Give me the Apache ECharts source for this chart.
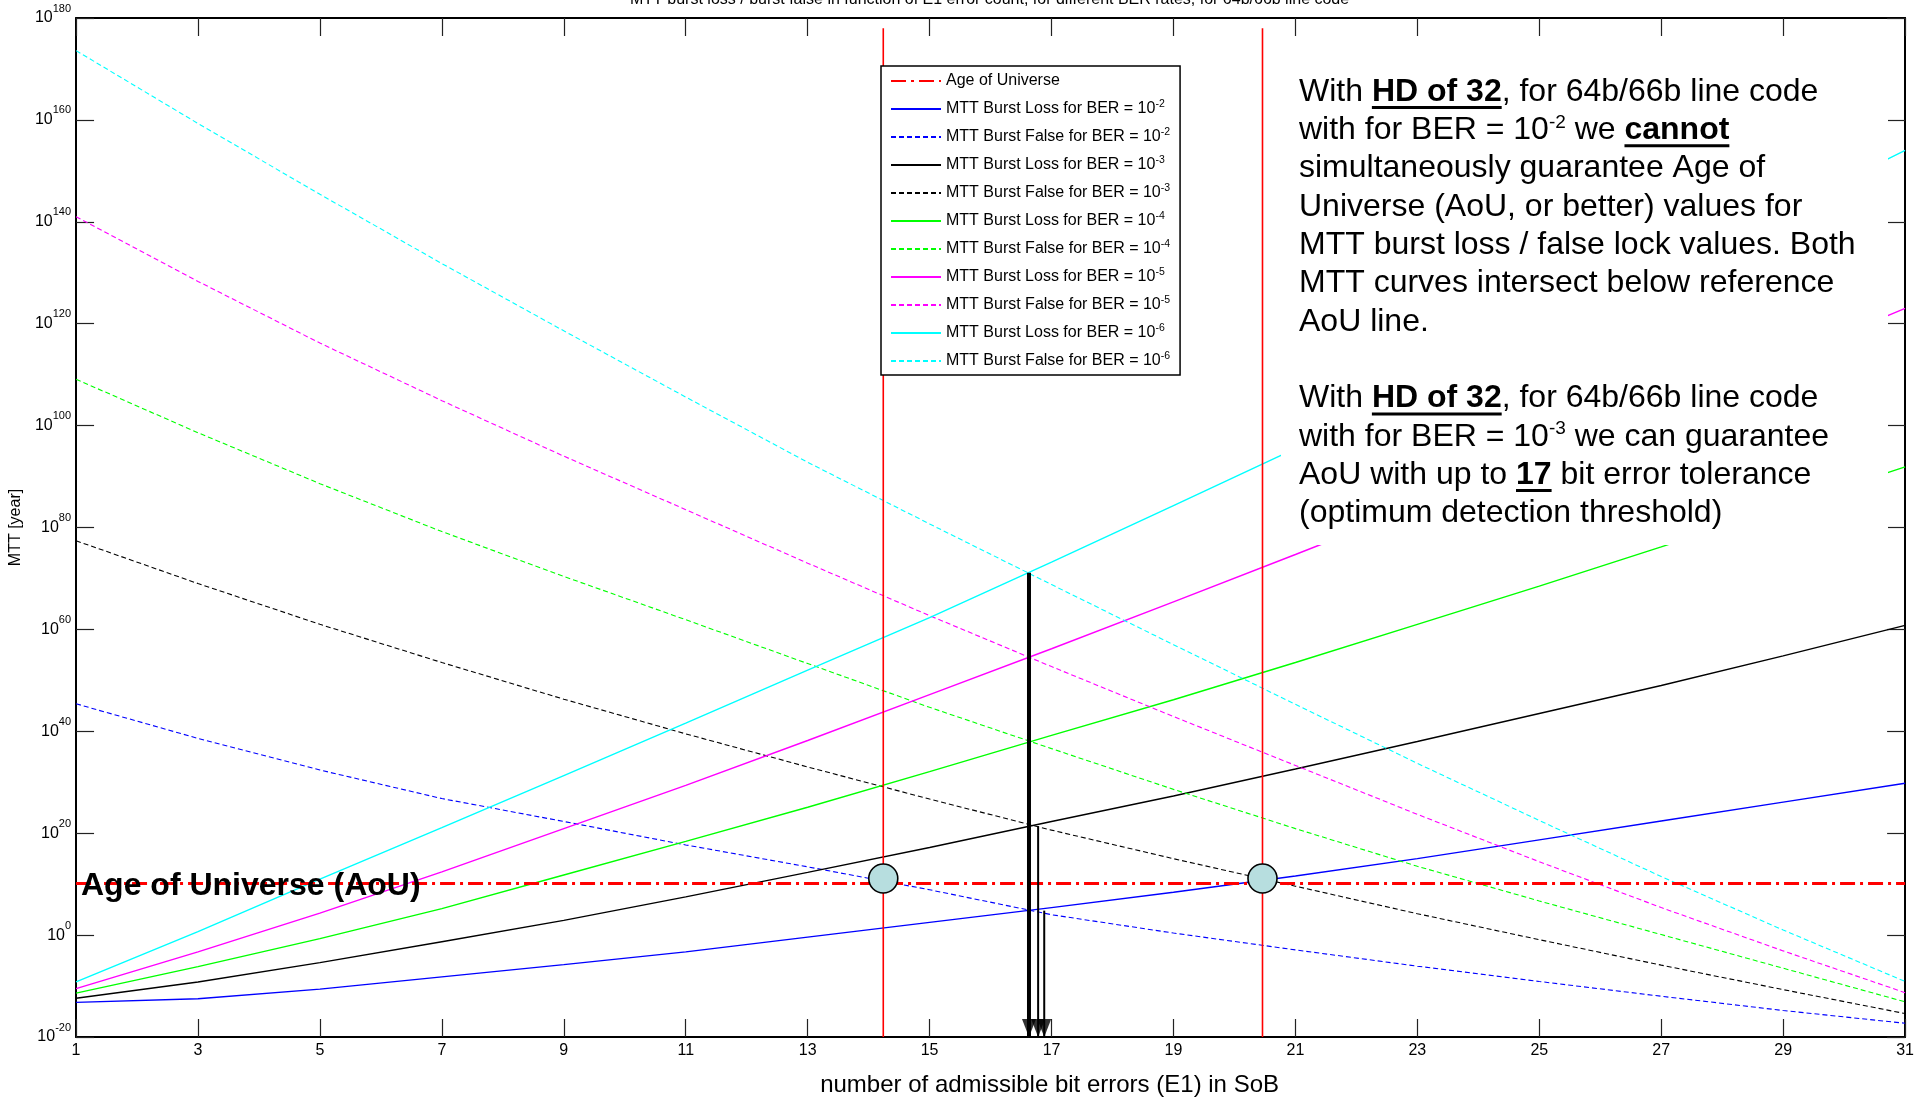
<!DOCTYPE html>
<html>
<head>
<meta charset="utf-8">
<script src="https://cdn.jsdelivr.net/npm/echarts@6/dist/echarts.min.js"></script>
<style>
html,body{margin:0;padding:0;background:#fff;overflow:hidden;width:1917px;height:1102px;}
#chart{position:absolute;left:0;top:0;width:1917px;height:1102px;}
</style>
</head>
<body>
<div id="chart"></div>
<script>
// ---------------- data (exponents of 10) ----------------
const xErrors = [1, 3, 5, 7, 9, 11, 13, 15, 17, 19, 21, 23, 25, 27, 29, 31];

const lossBer2Exp  = [-13.2, -12.5, -10.6, -8.2, -5.8, -3.3, -0.4, 2.5, 5.4, 8.4, 11.6, 15.0, 18.7, 22.4, 26.1, 29.8];
const falseBer2Exp = [45.4, 38.6, 32.4, 26.8, 22.3, 17.7, 13.4, 8.9, 4.0, 0.4, -2.9, -6.1, -9.1, -12.0, -14.8, -17.3];
const lossBer3Exp  = [-12.4, -9.2, -5.4, -1.3, 2.9, 7.5, 12.3, 17.2, 22.3, 27.3, 32.6, 38.0, 43.5, 49.0, 54.8, 60.8];
const falseBer3Exp = [77.4, 69.0, 61.0, 53.5, 46.3, 39.5, 33.0, 26.7, 20.6, 15.0, 9.6, 4.2, -0.9, -5.9, -10.7, -15.4];
const lossBer4Exp  = [-11.4, -6.2, -0.7, 5.2, 11.8, 18.4, 25.1, 32.1, 39.2, 46.2, 53.5, 61.0, 68.5, 76.2, 84.0, 91.9];
const falseBer4Exp = [109.1, 98.6, 88.6, 79.2, 70.4, 61.9, 53.3, 44.7, 36.6, 28.6, 20.9, 13.5, 6.7, 0.1, -6.5, -13.1];
const lossBer5Exp  = [-10.5, -3.3, 4.3, 12.4, 20.9, 29.4, 38.2, 47.2, 56.2, 65.4, 74.7, 84.1, 93.6, 103.2, 113.0, 123.0];
const falseBer5Exp = [141.0, 128.3, 116.2, 104.9, 94.0, 83.5, 73.0, 62.7, 52.7, 42.9, 33.3, 23.7, 14.4, 5.4, -3.1, -11.3];
const lossBer6Exp  = [-9.2, 0.7, 11.0, 21.1, 31.3, 41.6, 52.0, 62.3, 73.2, 84.3, 95.5, 106.9, 118.5, 130.2, 142.1, 154.0];
const falseBer6Exp = [173.6, 159.3, 145.4, 131.8, 118.6, 105.6, 92.8, 80.7, 68.8, 57.0, 45.3, 33.7, 22.5, 11.5, 1.0, -9.1];

const ageOfUniverseExp = 10.14;          // ~1.38e10 years
const thresholdX = [14.24, 20.46];        // red vertical marker lines
const thresholdTopExp = 178;
const circleX = [14.24, 20.46];
const circleExp = [11.1, 11.1];
const arrowX = [16.63, 16.78, 16.88];
const arrowTopExp = [71.1, 21.4, 4.8];

const xMin = 1, xMax = 31, xStep = 2;
const yMinExp = -20, yMaxExp = 180, yStepExp = 20;

const titleText = 'MTT burst loss / burst false in function of E1 error count, for different BER rates, for 64b/66b line code';
const xAxisTitle = 'number of admissible bit errors (E1) in SoB';
const yAxisTitle = 'MTT [year]';
const aouLabel = 'Age of Universe (AoU)';

const annotationLines = [
  [{t: 'With '}, {t: 'HD of 32', b: 1, u: 1}, {t: ', for 64b/66b line code'}],
  [{t: 'with for BER = 10'}, {t: '-2', sup: 1}, {t: ' we '}, {t: 'cannot', b: 1, u: 1}],
  [{t: 'simultaneously guarantee Age of'}],
  [{t: 'Universe (AoU, or better) values for'}],
  [{t: 'MTT burst loss / false lock values. Both'}],
  [{t: 'MTT curves intersect below reference'}],
  [{t: 'AoU line.'}],
  null,
  [{t: 'With '}, {t: 'HD of 32', b: 1, u: 1}, {t: ', for 64b/66b line code'}],
  [{t: 'with for BER = 10'}, {t: '-3', sup: 1}, {t: ' we can guarantee'}],
  [{t: 'AoU with up to '}, {t: '17', b: 1, u: 1}, {t: ' bit error tolerance'}],
  [{t: '(optimum detection threshold)'}]
];

// ---------------- chart ----------------
const FONT = '"Liberation Sans", Arial, Helvetica, sans-serif';
const mctx = document.createElement('canvas').getContext('2d');
function hasFont(name) {
  const s = 'abcdefghijklmnopqrstuvwxyz0123456789';
  mctx.font = '40px monospace';
  const a = mctx.measureText(s).width;
  mctx.font = '40px "' + name + '", monospace';
  const b = mctx.measureText(s).width;
  return Math.abs(a - b) > 0.5;
}
const NARROW = hasFont('Liberation Sans Narrow');
const TICK_FONT = NARROW ? '"Liberation Sans Narrow", "Liberation Sans", Arial, sans-serif' : FONT;
const TICK_SIZE = NARROW ? 18 : 16;
const TICK_SUP = NARROW ? 12 : 11;

const curves = [
  {name: 'MTT Burst Loss for BER = 10^-2',  data: lossBer2Exp,  color: '#0000ff', dashed: false},
  {name: 'MTT Burst False for BER = 10^-2', data: falseBer2Exp, color: '#0000ff', dashed: true},
  {name: 'MTT Burst Loss for BER = 10^-3',  data: lossBer3Exp,  color: '#000000', dashed: false},
  {name: 'MTT Burst False for BER = 10^-3', data: falseBer3Exp, color: '#000000', dashed: true},
  {name: 'MTT Burst Loss for BER = 10^-4',  data: lossBer4Exp,  color: '#00ff00', dashed: false},
  {name: 'MTT Burst False for BER = 10^-4', data: falseBer4Exp, color: '#00ff00', dashed: true},
  {name: 'MTT Burst Loss for BER = 10^-5',  data: lossBer5Exp,  color: '#ff00ff', dashed: false},
  {name: 'MTT Burst False for BER = 10^-5', data: falseBer5Exp, color: '#ff00ff', dashed: true},
  {name: 'MTT Burst Loss for BER = 10^-6',  data: lossBer6Exp,  color: '#00ffff', dashed: false},
  {name: 'MTT Burst False for BER = 10^-6', data: falseBer6Exp, color: '#00ffff', dashed: true}
];

const series = [];
series.push({
  name: 'Age of Universe', type: 'line', symbol: 'none', silent: true, z: 3,
  data: [[xMin, ageOfUniverseExp], [xMax, ageOfUniverseExp]],
  lineStyle: {color: '#ff0000', width: 3, type: [15, 5, 3, 5]},
  itemStyle: {color: '#ff0000'}
});
curves.forEach(c => {
  series.push({
    name: c.name, type: 'line', symbol: 'none', silent: true, z: 2,
    data: xErrors.map((x, i) => [x, c.data[i]]),
    lineStyle: {color: c.color, width: c.dashed ? 1.1 : 1.4, type: c.dashed ? [5, 3] : 'solid'},
    itemStyle: {color: c.color}
  });
});
thresholdX.forEach((x, i) => {
  series.push({
    name: 'threshold' + i, type: 'line', symbol: 'none', silent: true, z: 3,
    data: [[x, yMinExp], [x, thresholdTopExp]],
    lineStyle: {color: '#ff0000', width: 1.6}
  });
});
arrowX.forEach((x, i) => {
  series.push({
    name: 'arrow' + i, type: 'line', symbol: 'none', silent: true, z: 4,
    data: [[x, arrowTopExp[i]], [x, yMinExp]],
    lineStyle: {color: '#000', width: i === 0 ? 4 : 2}
  });
});
series.push({
  name: 'arrowHeads', type: 'scatter', silent: true, z: 5, clip: false,
  data: arrowX.map(x => [x, yMinExp]),
  symbol: 'triangle', symbolRotate: 180, symbolSize: [14, 18], symbolOffset: [0, -9],
  itemStyle: {color: '#000'}
});
series.push({
  name: 'circles', type: 'scatter', silent: true, z: 6,
  data: circleX.map((x, i) => [x, circleExp[i]]),
  symbol: 'circle', symbolSize: 29,
  itemStyle: {color: '#b7dedf', borderColor: '#000', borderWidth: 1.6, opacity: 1}
});

// ---- annotation (text box drawn over the plot) ----
function fontStr(b, size) { return (b ? 'bold ' : '') + size + 'px ' + FONT; }
const graphics = [];
graphics.push({type: 'rect', z: 100, silent: true, shape: {x: 1281, y: 45, width: 607, height: 500}, style: {fill: '#fff'}});
const annoX = 1299, annoY0 = 92, annoStep = 38.3;
annotationLines.forEach((segs, li) => {
  if (!segs) return;
  const yc = annoY0 + li * annoStep;
  let x = annoX;
  segs.forEach(s => {
    const size = s.sup ? 19 : 32;
    const f = fontStr(s.b, size);
    mctx.font = f;
    const w = mctx.measureText(s.t).width;
    const y = s.sup ? yc - 8 : yc;
    graphics.push({type: 'text', z: 101, silent: true, x: x, y: y,
      style: {text: s.t, font: f, fill: '#000', align: 'left', verticalAlign: 'middle', textAlign: 'left', textVerticalAlign: 'middle'}});
    if (s.u) graphics.push({type: 'rect', z: 101, silent: true, shape: {x: x, y: yc + 14, width: w, height: 3}, style: {fill: '#000'}});
    x += w;
  });
});
graphics.push({type: 'text', z: 101, silent: true, x: 81, y: 886,
  style: {text: aouLabel, font: fontStr(true, 32), fill: '#000', align: 'left', verticalAlign: 'middle', textAlign: 'left', textVerticalAlign: 'middle'}});

const axisCommonX = {
  type: 'value', min: xMin, max: xMax, interval: xStep,
  splitLine: {show: false},
  axisLine: {show: true, onZero: false, lineStyle: {color: '#000', width: 2}},
  axisTick: {show: true, inside: true, length: 18, lineStyle: {color: '#222', width: 1.2}}
};
const axisCommonY = {
  type: 'value', min: yMinExp, max: yMaxExp, interval: yStepExp,
  splitLine: {show: false},
  axisLine: {show: true, onZero: false, lineStyle: {color: '#000', width: 2}},
  axisTick: {show: true, inside: true, length: 18, lineStyle: {color: '#222', width: 1.2}}
};

const option = {
  animation: false,
  backgroundColor: '#fff',
  title: {
    text: titleText, left: 630, top: -8, padding: 0,
    textStyle: {fontSize: 16, fontWeight: 'normal', color: '#000', fontFamily: FONT}
  },
  grid: {left: 73, right: 5, top: 18, bottom: 63, containLabel: false},
  legend: {
    data: ['Age of Universe'].concat(curves.map(c => c.name)),
    orient: 'vertical', left: 881, top: 66,
    padding: [5, 10, 4, 9],
    itemWidth: 50, itemHeight: 14, itemGap: 8,
    backgroundColor: '#fff', borderColor: '#000', borderWidth: 1.5, borderRadius: 0,
    selectedMode: false, z: 50,
    itemStyle: {opacity: 0, borderWidth: 0},
    formatter: name => name.replace(/\^(-?\d+)/, '{sup|$1}'),
    textStyle: {
      fontFamily: FONT, fontSize: 16, color: '#000', lineHeight: 20,
      rich: {sup: {fontFamily: FONT, fontSize: 10.5, color: '#000', lineHeight: 10, verticalAlign: 'top'}}
    }
  },
  xAxis: [
    Object.assign({}, axisCommonX, {
      position: 'bottom',
      name: xAxisTitle, nameLocation: 'middle', nameGap: 36,
      nameTextStyle: {fontFamily: FONT, fontSize: 24, color: '#000', padding: [0, 0, 0, 118]},
      axisLabel: {show: true, fontFamily: TICK_FONT, fontSize: TICK_SIZE, color: '#000', margin: 6, showMinLabel: true, showMaxLabel: true}
    }),
    Object.assign({}, axisCommonX, {position: 'top', axisLabel: {show: false}})
  ],
  yAxis: [
    Object.assign({}, axisCommonY, {
      position: 'left',
      name: yAxisTitle, nameLocation: 'middle', nameGap: 50,
      nameTextStyle: {fontFamily: FONT, fontSize: 16, color: '#000'},
      axisLabel: {
        show: true, margin: 5, fontFamily: TICK_FONT, fontSize: TICK_SIZE, color: '#000', lineHeight: 30,
        showMinLabel: true, showMaxLabel: true,
        formatter: v => '10{sup|' + v + '}',
        rich: {sup: {fontFamily: TICK_FONT, fontSize: TICK_SUP, color: '#000', lineHeight: 12, verticalAlign: 'top'}}
      }
    }),
    Object.assign({}, axisCommonY, {position: 'right', axisLabel: {show: false}})
  ],
  graphic: graphics,
  series: series
};

const chart = echarts.init(document.getElementById('chart'), null, {renderer: 'canvas', width: 1917, height: 1102});
chart.setOption(option);
</script>
</body>
</html>
